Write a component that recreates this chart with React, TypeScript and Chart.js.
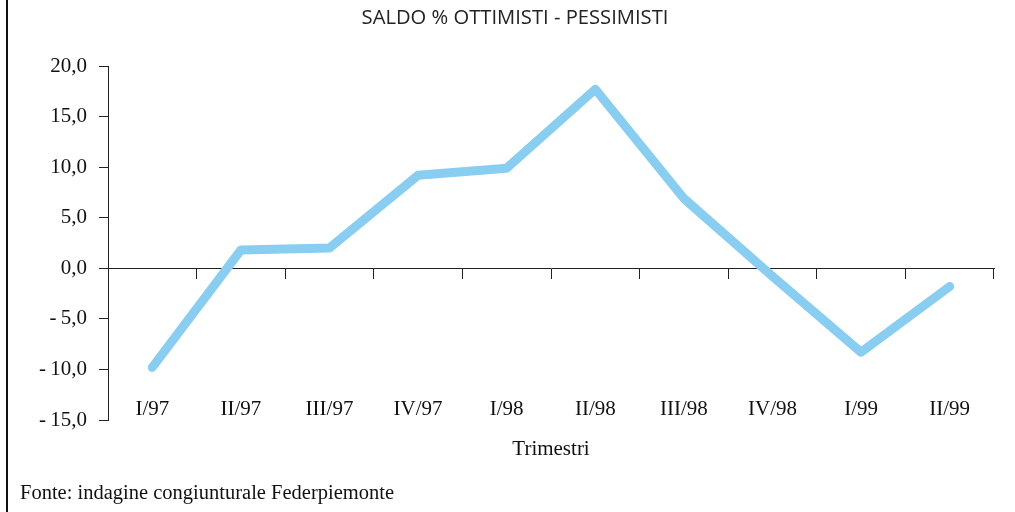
import React, { useEffect, useRef } from "react";
import { Chart, registerables } from "chart.js";

Chart.register(...registerables);

const categories = ["I/97", "II/97", "III/97", "IV/97", "I/98", "II/98", "III/98", "IV/98", "I/99", "II/99"];
const saldo = [-9.8, 1.8, 2.0, 9.2, 9.9, 17.7, 6.9, -0.8, -8.3, -1.8];
const yTicks = [20, 15, 10, 5, 0, -5, -10, -15];
const titleText = "SALDO % OTTIMISTI - PESSIMISTI";
const xTitle = "Trimestri";
const sourceNote = "Fonte: indagine congiunturale Federpiemonte";

const SERIF = "'Liberation Serif', 'Times New Roman', serif";
const SANS = "'Open Sans', 'Noto Sans', sans-serif";

function fmt(v: number): string {
  const s = Math.abs(v).toFixed(1).replace(".", ",");
  return v < 0 ? "-\u2009" + s : s;
}

const decorPlugin = {
  id: "decor",
  afterDraw(chart: any) {
    const ctx = chart.ctx;
    ctx.save();
    // left frame line
    ctx.fillStyle = "#111";
    ctx.fillRect(6, 0, 2, chart.height);
    // title
    ctx.fillStyle = "#222";
    ctx.font = `20.2px ${SANS}`;
    ctx.textAlign = "center";
    ctx.textBaseline = "middle";
    ctx.fillText(titleText, 515, 18);
    // source note
    ctx.fillStyle = "#111";
    ctx.font = `20.5px ${SERIF}`;
    ctx.textAlign = "left";
    ctx.fillText(sourceNote, 20, 494);
    ctx.restore();
  },
};

export default function App() {
  const ref = useRef<HTMLCanvasElement | null>(null);
  useEffect(() => {
    if (!ref.current) return;
    const chart = new Chart(ref.current, {
      type: "line",
      data: {
        labels: categories,
        datasets: [
          {
            label: titleText,
            data: saldo,
            xAxisID: "x",
            yAxisID: "y",
            borderColor: "#89CDF1",
            backgroundColor: "#89CDF1",
            borderWidth: 9,
            borderCapStyle: "round",
            borderJoinStyle: "round",
            pointRadius: 0,
            tension: 0,
            fill: false,
          },
        ],
      },
      options: {
        animation: false,
        responsive: false,
        maintainAspectRatio: false,
        layout: { padding: { top: 66, right: 21, bottom: 40, left: 0 } },
        plugins: {
          legend: { display: false },
          title: { display: false },
          tooltip: { enabled: false },
        },
        scales: {
          x: {
            type: "category",
            position: "bottom",
            offset: true,
            grid: { display: false },
            border: { display: false },
            ticks: {
              mirror: true,
              padding: -2,
              maxRotation: 0,
              autoSkip: false,
              color: "#111",
              font: { family: SERIF, size: 21 },
            },
            title: {
              display: true,
              text: xTitle,
              color: "#111",
              font: { family: SERIF, size: 21 },
              padding: { top: 0, bottom: 10 },
            },
            afterFit: (scale: any) => {
              scale.height = 52;
            },
          },
          x2: {
            type: "category",
            position: { y: 0 },
            offset: true,
            grid: {
              display: true,
              offset: true,
              drawOnChartArea: false,
              drawTicks: true,
              tickLength: 10,
              color: "#222",
              lineWidth: 1,
            },
            border: { display: true, color: "#222", width: 1 },
            ticks: { display: false },
          },
          y: {
            type: "linear",
            position: "left",
            min: -15,
            max: 20,
            afterBuildTicks: (scale: any) => {
              scale.ticks = yTicks.map((v) => ({ value: v }));
            },
            grid: {
              display: true,
              drawOnChartArea: false,
              drawTicks: true,
              tickLength: 9,
              color: "#222",
              lineWidth: 1,
            },
            border: { display: true, color: "#222", width: 1 },
            ticks: {
              padding: 12,
              color: "#111",
              font: { family: SERIF, size: 21 },
              callback: (v: any) => fmt(Number(v)),
            },
            afterFit: (scale: any) => {
              scale.width = 108;
            },
          },
        },
      },
      plugins: [decorPlugin],
    } as any);
    return () => chart.destroy();
  }, []);

  return (
    <div style={{ position: "fixed", left: 0, top: 0, width: 1015, height: 512, background: "#fff" }}>
      <canvas ref={ref} width={1015} height={512} style={{ width: 1015, height: 512, display: "block" }} />
    </div>
  );
}
